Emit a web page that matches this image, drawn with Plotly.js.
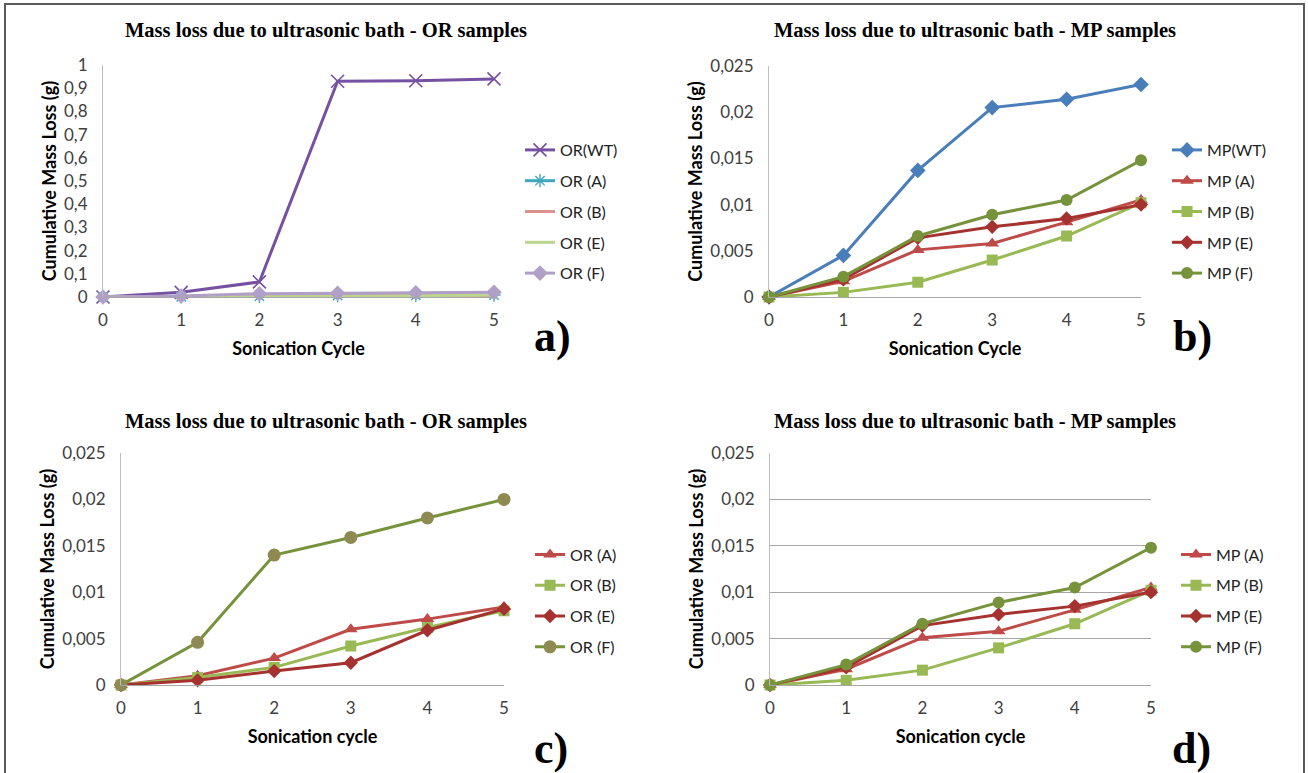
<!DOCTYPE html>
<html>
<head>
<meta charset="utf-8">
<script src="https://cdn.plot.ly/plotly-3.0.1.min.js"></script>
<style>html,body{margin:0;padding:0;background:#fff;}#chart{width:1308px;height:773px;}</style>
</head>
<body>
<div id="chart"></div>
<script>
// ---- data ----
const cycles = [0, 1, 2, 3, 4, 5];
const cycleLabels = ['0', '1', '2', '3', '4', '5'];

// panel a / c : OR samples
const orWT = [0, 0.02, 0.065, 0.93, 0.932, 0.94];
const orA  = [0, 0.0010, 0.0029, 0.0060, 0.0071, 0.0084];
const orB  = [0, 0.0008, 0.0019, 0.0042, 0.0062, 0.0080];
const orE  = [0, 0.0005, 0.0015, 0.0024, 0.0059, 0.0082];
const orF  = [0, 0.0046, 0.0140, 0.0159, 0.0180, 0.0200];

// panel b / d : MP samples
const mpWT = [0, 0.0045, 0.0137, 0.0205, 0.0214, 0.0230];
const mpA  = [0, 0.0017, 0.0051, 0.0058, 0.0081, 0.0105];
const mpB  = [0, 0.0005, 0.0016, 0.0040, 0.0066, 0.0102];
const mpE  = [0, 0.0019, 0.0064, 0.0076, 0.0085, 0.0100];
const mpF  = [0, 0.0022, 0.0066, 0.0089, 0.0105, 0.0148];

// tick labels
const ticksBig = [0, 0.1, 0.2, 0.3, 0.4, 0.5, 0.6, 0.7, 0.8, 0.9, 1];
const labelsBig = ['0', '0,1', '0,2', '0,3', '0,4', '0,5', '0,6', '0,7', '0,8', '0,9', '1'];
const ticksSmall = [0, 0.005, 0.01, 0.015, 0.02, 0.025];
const labelsSmall = ['0', '0,005', '0,01', '0,015', '0,02', '0,025'];

const titleOR = 'Mass loss due to ultrasonic bath - OR samples';
const titleMP = 'Mass loss due to ultrasonic bath - MP samples';

// ---- helpers ----
const W = 1308, H = 773;
const px = v => v / W;
const py = v => 1 - v / H;

function tr(name, y, xa, ya, leg, lineColor, symbol, mColor, mSize, mLineW) {
  const t = {
    type: 'scatter', mode: symbol ? 'lines+markers' : 'lines',
    x: cycles, y: y, name: name, xaxis: xa, yaxis: ya,
    legend: leg, legendgroup: leg + name, cliponaxis: false,
    line: {color: lineColor, width: 3},
  };
  if (symbol) {
    t.marker = {symbol: symbol, size: mSize, color: mColor,
      line: {color: mColor, width: mLineW || 0}};
  }
  return t;
}

const data = [
  // panel a
  tr('OR(WT)', orWT, 'x', 'y', 'legend', '#7651a3', 'x-thin-open', '#7651a3', 13, 1.6),
  tr('OR (A)', orA, 'x', 'y', 'legend', '#3fa7c0', 'asterisk-open', '#3fa7c0', 11, 1.4),
  tr('OR (B)', orB, 'x', 'y', 'legend', '#dc918e', null),
  tr('OR (E)', orE, 'x', 'y', 'legend', '#bcd58f', null),
  tr('OR (F)', orF, 'x', 'y', 'legend', '#b0a0c8', 'diamond', '#b0a0c8', 12),
  // panel b
  tr('MP(WT)', mpWT, 'x2', 'y2', 'legend2', '#4a7ebb', 'diamond', '#4a7ebb', 12),
  tr('MP (A)', mpA, 'x2', 'y2', 'legend2', '#be4b48', 'triangle-up', '#be4b48', 12),
  tr('MP (B)', mpB, 'x2', 'y2', 'legend2', '#98b954', 'square', '#98b954', 11),
  tr('MP (E)', mpE, 'x2', 'y2', 'legend2', '#a5322f', 'diamond', '#a5322f', 11),
  tr('MP (F)', mpF, 'x2', 'y2', 'legend2', '#76933c', 'circle', '#76933c', 12),
  // panel c
  tr('OR (A)', orA, 'x3', 'y3', 'legend3', '#be4b48', 'triangle-up', '#be4b48', 12),
  tr('OR (B)', orB, 'x3', 'y3', 'legend3', '#98b954', 'square', '#98b954', 11),
  tr('OR (E)', orE, 'x3', 'y3', 'legend3', '#a5322f', 'diamond', '#a5322f', 11),
  tr('OR (F)', orF, 'x3', 'y3', 'legend3', '#76933c', 'circle', '#8f8a52', 13),
  // panel d
  tr('MP (A)', mpA, 'x4', 'y4', 'legend4', '#be4b48', 'triangle-up', '#be4b48', 12),
  tr('MP (B)', mpB, 'x4', 'y4', 'legend4', '#98b954', 'square', '#98b954', 11),
  tr('MP (E)', mpE, 'x4', 'y4', 'legend4', '#a5322f', 'diamond', '#a5322f', 11),
  tr('MP (F)', mpF, 'x4', 'y4', 'legend4', '#76933c', 'circle', '#76933c', 12),
];

const tickFont = {family: 'Lato, "Open Sans", sans-serif', size: 17, color: '#404040'};
const axTitleFont = {family: 'Lato, "Open Sans", sans-serif', size: 18, color: '#000'};

function xax(domain, anchor, title) {
  return {
    domain: domain, anchor: anchor, range: [0, 5], fixedrange: true,
    tickmode: 'array', tickvals: cycles, ticktext: cycleLabels,
    ticks: 'outside', ticklen: 8, tickcolor: 'rgba(0,0,0,0)',
    showgrid: false, zeroline: false, showline: true, linecolor: '#a6a6a6', linewidth: 1,
    tickfont: tickFont,
    title: {text: '<b>' + title + '</b>', font: axTitleFont, standoff: 12},
  };
}
function yax(domain, anchor, range, tv, tt, grid) {
  return {
    domain: domain, anchor: anchor, range: range, fixedrange: true,
    tickmode: 'array', tickvals: tv, ticktext: tt,
    ticks: 'outside', ticklen: 11, tickcolor: 'rgba(0,0,0,0)',
    showgrid: !!grid, gridcolor: '#a6a6a6', gridwidth: 1,
    zeroline: false, showline: true, linecolor: '#bfbfbf', linewidth: 1,
    tickfont: tickFont,
    title: {text: '<b>Cumulative Mass Loss (g)</b>', font: axTitleFont, standoff: 2},
  };
}

const legFont = {family: 'Lato, "Open Sans", sans-serif', size: 16, color: '#222'};
function leg(x, ytop) {
  return {x: px(x), y: py(ytop), xanchor: 'left', yanchor: 'top',
    font: legFont, tracegroupgap: 7, bgcolor: 'rgba(0,0,0,0)', itemclick: false};
}

const titleFont = {family: '"Liberation Serif", "Times New Roman", serif', size: 20.5, color: '#000'};
const letterFont = {family: '"Liberation Serif", "Times New Roman", serif', size: 44, color: '#000'};
function ann(text, x, y, font) {
  return {text: text, x: px(x), y: py(y), xref: 'paper', yref: 'paper',
    xanchor: 'center', yanchor: 'middle', showarrow: false, font: font};
}

const layout = {
  width: W, height: H,
  margin: {l: 0, r: 0, t: 0, b: 0},
  paper_bgcolor: '#fff', plot_bgcolor: 'rgba(0,0,0,0)',
  showlegend: true,
  xaxis: xax([px(103), px(494)], 'y', 'Sonication Cycle'),
  yaxis: yax([py(297), py(65)], 'x', [0, 1], ticksBig, labelsBig, false),
  xaxis2: xax([px(769), px(1141)], 'y2', 'Sonication Cycle'),
  yaxis2: yax([py(297), py(66)], 'x2', [0, 0.025], ticksSmall, labelsSmall, false),
  xaxis3: xax([px(121), px(504)], 'y3', 'Sonication cycle'),
  yaxis3: yax([py(685), py(453)], 'x3', [0, 0.025], ticksSmall, labelsSmall, false),
  xaxis4: xax([px(770), px(1151)], 'y4', 'Sonication cycle'),
  yaxis4: yax([py(685), py(453)], 'x4', [0, 0.025], ticksSmall, labelsSmall, true),
  legend: leg(520, 133),
  legend2: leg(1167, 133),
  legend3: leg(530, 537.5),
  legend4: leg(1176, 537.5),
  annotations: [
    ann('<b>' + titleOR + '</b>', 326, 31, titleFont),
    ann('<b>' + titleMP + '</b>', 975, 31, titleFont),
    ann('<b>' + titleOR + '</b>', 326, 421, titleFont),
    ann('<b>' + titleMP + '</b>', 975, 421, titleFont),
    ann('<b>a)</b>', 552, 336, letterFont),
    ann('<b>b)</b>', 1192, 336, letterFont),
    ann('<b>c)</b>', 551, 748, letterFont),
    ann('<b>d)</b>', 1191, 748, letterFont),
  ],
  shapes: [
    {type: 'rect', xref: 'paper', yref: 'paper', x0: px(5), x1: px(1304), y0: -0.02, y1: py(4),
     line: {color: '#5a5a5a', width: 2}, fillcolor: 'rgba(0,0,0,0)', layer: 'below'},
  ],
};

Plotly.newPlot('chart', data, layout, {staticPlot: true, displayModeBar: false});
</script>
</body>
</html>
